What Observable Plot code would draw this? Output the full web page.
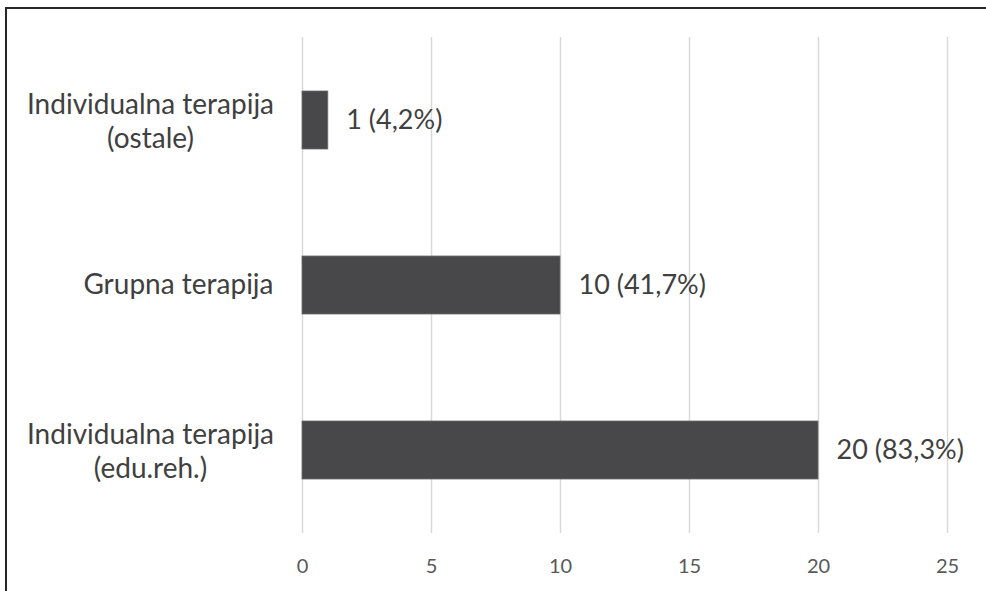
<!DOCTYPE html>
<html>
<head>
<meta charset="utf-8">
<script src="https://cdn.jsdelivr.net/npm/d3@7"></script>
<script src="https://cdn.jsdelivr.net/npm/@observablehq/plot@0.6"></script>
<style>
  html, body { margin: 0; padding: 0; background: #fff; }
  #wrap { position: relative; width: 986px; height: 591px; overflow: hidden; }
  #frame { position: absolute; left: 5px; top: 7px; width: 1000px; height: 700px;
           border-top: 2px solid #262626; border-left: 2px solid #262626; pointer-events: none; }
</style>
</head>
<body>
<div id="wrap"><div id="chart"></div><div id="frame"></div></div>
<script>
const categories = ["Individualna terapija\n(ostale)", "Grupna terapija", "Individualna terapija\n(edu.reh.)"];
const values = [1, 10, 20];
const valueLabels = ["1 (4,2%)", "10 (41,7%)", "20 (83,3%)"];
const xTicks = [0, 5, 10, 15, 20, 25];

const data = categories.map((c, i) => ({cat: c, value: values[i], label: valueLabels[i]}));
const font = "Lato, 'Open Sans', sans-serif";
const multi = categories.filter(c => c.includes("\n"));
const single = categories.filter(c => !c.includes("\n"));

const chart = Plot.plot({
  width: 986,
  height: 591,
  marginLeft: 302,
  marginRight: 39,
  marginTop: 37,
  marginBottom: 58,
  style: {fontFamily: font, background: "white"},
  x: {domain: [0, 25], ticks: xTicks, label: null},
  y: {domain: categories, paddingInner: 0.65, paddingOuter: 0.325, label: null},
  marks: [
    Plot.gridX(xTicks, {stroke: "#d9d9d9", strokeOpacity: 1, strokeWidth: 1.5}),
    Plot.barX(data, {x: "value", y: "cat", fill: "#48484a", stroke: "#6a6a6a", strokeWidth: 0.8}),
    Plot.text(data, {x: "value", y: "cat", text: "label", textAnchor: "start", dx: 18, fontSize: 27, fill: "#404040"}),
    Plot.axisX(xTicks, {tickSize: 0, tickPadding: 25, fontSize: 20, fill: "#595959", label: null}),
    Plot.axisY(multi, {tickSize: 0, tickPadding: 0, textAnchor: "middle", dx: -152, fontSize: 28, fill: "#404040", lineHeight: 1.21, label: null}),
    Plot.axisY(single, {tickSize: 0, tickPadding: 0, textAnchor: "end", dx: -29, fontSize: 28, fill: "#404040", label: null})
  ]
});
document.getElementById("chart").appendChild(chart);
</script>
</body>
</html>
